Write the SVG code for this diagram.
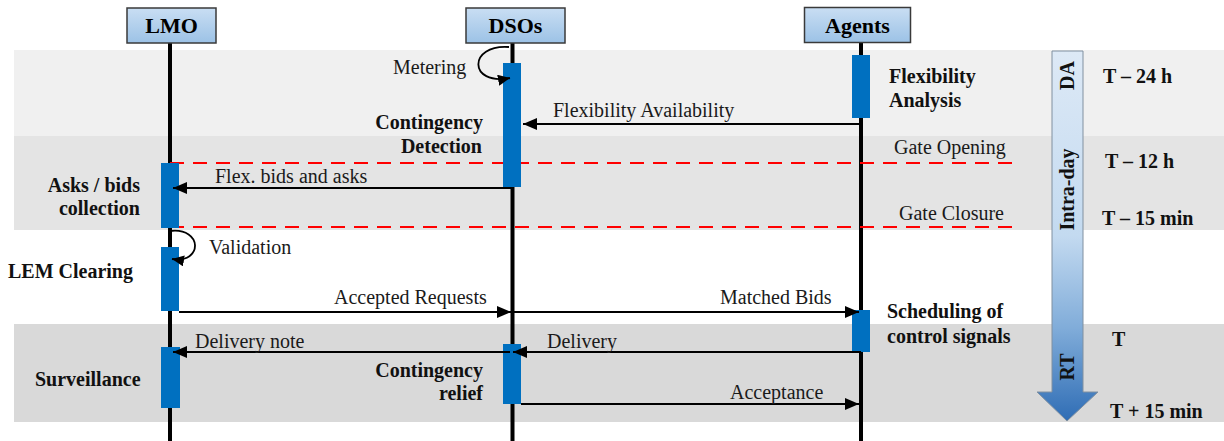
<svg xmlns="http://www.w3.org/2000/svg" width="1224" height="441" viewBox="0 0 1224 441">
<defs>
<linearGradient id="hdr" x1="0" y1="0" x2="0" y2="1"><stop offset="0" stop-color="#c9def3"/><stop offset="1" stop-color="#9cc2e6"/></linearGradient>
<linearGradient id="tl" x1="0" y1="0" x2="0" y2="1"><stop offset="0" stop-color="#dde9f6"/><stop offset="0.5" stop-color="#c3daf0"/><stop offset="0.75" stop-color="#80acd9"/><stop offset="1" stop-color="#2f6db5"/></linearGradient>
<marker id="ah" markerUnits="userSpaceOnUse" markerWidth="14" markerHeight="12" refX="14" refY="6" orient="auto"><path d="M0,0 L14,6 L0,12 z" fill="#000"/></marker>
<marker id="ahs" markerUnits="userSpaceOnUse" markerWidth="12" markerHeight="11" refX="12" refY="5.5" orient="auto"><path d="M0,0 L12,5.5 L0,11 z" fill="#000"/></marker>
<style>
.hb{fill:url(#hdr);stroke:#3a3a3a;stroke-width:1.5}
.ht{font-family:'Liberation Serif','Times New Roman',Tinos,'DejaVu Serif','Noto Serif',serif;font-weight:bold;font-size:22px;text-anchor:middle;fill:#000}
.life{stroke:#000;stroke-width:4}
.bar{fill:#0070c0}
.msg{stroke:#000;stroke-width:1.8;fill:none;marker-end:url(#ah)}
.loop{stroke:#000;stroke-width:1.8;fill:none;marker-end:url(#ahs)}
.t{font-family:'Liberation Serif','Times New Roman',Tinos,'DejaVu Serif','Noto Serif',serif;font-size:20px;fill:#1a1a1a}
.b{font-family:'Liberation Serif','Times New Roman',Tinos,'DejaVu Serif','Noto Serif',serif;font-size:20px;font-weight:bold;fill:#111}
.e{text-anchor:end}
.gate{stroke:#ff0000;stroke-width:2;stroke-dasharray:14 9;fill:none}
</style>
</defs>
<g id="bands">
<rect x="14" y="50" width="1210" height="86" fill="#f0f0f0"/>
<rect x="14" y="136" width="1210" height="94" fill="#e4e4e4"/>
<rect x="14" y="324" width="1210" height="98" fill="#d9d9d9"/>
</g>
<g id="timeline">
<path d="M1052,51 L1083,51 L1083,392 L1098,392 L1067,421 L1037,392 L1052,392 Z" fill="url(#tl)" stroke="#8090a0" stroke-width="1"/>
<text class="b" text-anchor="middle" transform="translate(1074,75.5) rotate(-90)">DA</text>
<text class="b" text-anchor="middle" transform="translate(1074,189.5) rotate(-90)">Intra-day</text>
<text class="b" text-anchor="middle" transform="translate(1074,367) rotate(-90)">RT</text>
</g>
<g id="lifelines">
<line class="life" x1="170" y1="43" x2="170" y2="441"/>
<line class="life" x1="512.5" y1="43" x2="512.5" y2="441"/>
<line class="life" x1="861" y1="43" x2="861" y2="441"/>
</g>
<g id="gates">
<line class="gate" x1="170" y1="163" x2="1015" y2="163"/>
<line class="gate" x1="170" y1="227" x2="1017" y2="227"/>
<text class="t" x="894" y="154">Gate Opening</text>
<text class="t" x="899" y="220">Gate Closure</text>
</g>
<g id="LMO">
<rect class="hb" x="127" y="8" width="89" height="35"/>
<text class="ht" x="171.5" y="33">LMO</text>
</g>
<g id="DSOs">
<rect class="hb" x="466" y="8" width="99" height="35"/>
<text class="ht" x="515.5" y="33">DSOs</text>
</g>
<g id="Agents">
<rect class="hb" x="804.5" y="7.5" width="106" height="35"/>
<text class="ht" x="857.5" y="33">Agents</text>
</g>
<g id="activations">
<rect id="dso-bar1" class="bar" x="503" y="63" width="18" height="124"/>
<rect id="agent-bar1" class="bar" x="852" y="55" width="18" height="63"/>
<rect id="lmo-bar1" class="bar" x="161" y="163" width="18" height="65"/>
<rect id="lmo-bar2" class="bar" x="161" y="247" width="18" height="64"/>
<rect id="agent-bar2" class="bar" x="852" y="310" width="18" height="42"/>
<rect id="lmo-bar3" class="bar" x="161" y="347" width="19" height="61"/>
<rect id="dso-bar2" class="bar" x="503" y="344" width="18" height="60"/>
</g>
<g id="connectors">
<path class="loop" d="M509,47 C468,44 468,86 510,78"/>
<line class="msg" x1="861" y1="124" x2="523" y2="124"/>
<line class="msg" x1="512" y1="188" x2="173" y2="188"/>
<path class="loop" d="M170,231 C203,227 203,264 172,259"/>
<line class="msg" x1="179" y1="312" x2="511" y2="312"/>
<line class="msg" x1="514" y1="312" x2="859" y2="312"/>
<line class="msg" x1="861" y1="352" x2="513" y2="352"/>
<line class="msg" x1="510" y1="352" x2="173" y2="352"/>
<line class="msg" x1="521" y1="404" x2="859" y2="404"/>
</g>
<g id="messages">
<text class="t" x="393" y="74">Metering</text>
<text class="t" x="553" y="117">Flexibility Availability</text>
<text class="t" x="215" y="183">Flex. bids and asks</text>
<text class="t" x="209" y="254">Validation</text>
<text class="t" x="334" y="304">Accepted Requests</text>
<text class="t" x="720" y="304">Matched Bids</text>
<text class="t" x="195" y="348">Delivery note</text>
<text class="t" x="547" y="348">Delivery</text>
<text class="t" x="730" y="399">Acceptance</text>
</g>
<g id="activities">
<text class="b e" x="483" y="129">Contingency</text>
<text class="b e" x="482" y="153">Detection</text>
<text class="b" x="889" y="83">Flexibility</text>
<text class="b" x="889" y="107">Analysis</text>
<text class="b e" x="140" y="192">Asks / bids</text>
<text class="b e" x="140" y="215">collection</text>
<text class="b" x="8" y="278">LEM Clearing</text>
<text class="b" x="887" y="318">Scheduling of</text>
<text class="b" x="887" y="343">control signals</text>
<text class="b" x="35" y="386">Surveillance</text>
<text class="b e" x="483" y="377">Contingency</text>
<text class="b e" x="483" y="400">relief</text>
</g>
<g id="times">
<text class="b" x="1103" y="83">T – 24 h</text>
<text class="b" x="1105" y="168">T – 12 h</text>
<text class="b" x="1102" y="225">T – 15 min</text>
<text class="b" x="1112" y="346">T</text>
<text class="b" x="1110" y="418">T + 15 min</text>
</g>
</svg>
